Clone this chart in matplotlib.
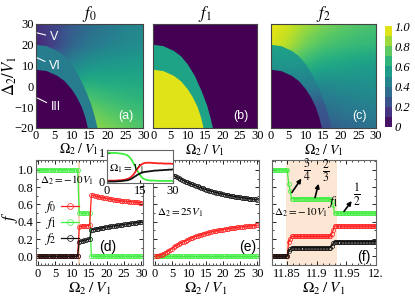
import numpy as np
import matplotlib
matplotlib.use("Agg")
import matplotlib.pyplot as plt
from matplotlib.patches import Polygon
from matplotlib.ticker import MultipleLocator
from matplotlib.cm import ScalarMappable
from matplotlib.colors import Normalize

plt.rcParams['font.family'] = ['Liberation Serif', 'DejaVu Serif']
plt.rcParams['mathtext.fontset'] = 'stix'
plt.rcParams['font.size'] = 9

# ---- phase diagram data (grid nodes: Omega2 = 0..30 step 5, Delta2 = 30..-20 step 10)
omega_nodes = [0, 5, 10, 15, 20, 25, 30]
delta_nodes = [30, 20, 10, 0, -10, -20]

# boundary between region V and VI
omega_outer = [0, 3, 6, 8, 10, 12, 14, 15.5, 16.5, 17.2]
delta_outer = [20, 19.3, 17, 14.5, 10.5, 5, -2.5, -9, -15, -20]
# boundary between region VI and III
omega_inner = [0, 3, 6, 8, 10, 11.5, 12.8, 13.8, 14.5]
delta_inner = [8, 7.3, 5, 2.5, -1.5, -5.5, -10, -15, -20]

f0_outer = [[0.14, 0.20, 0.28, 0.35, 0.40, 0.44, 0.46],
            [0.10, 0.20, 0.32, 0.40, 0.44, 0.47, 0.49],
            [0.25, 0.36, 0.46, 0.52, 0.54, 0.55, 0.56],
            [0.50, 0.56, 0.63, 0.65, 0.63, 0.62, 0.61],
            [0.74, 0.76, 0.77, 0.76, 0.72, 0.69, 0.67],
            [0.84, 0.84, 0.84, 0.84, 0.80, 0.76, 0.72]]
f0_band = [[0.42] * 7] * 6
f0_core = 0.0

f1_outer = [[0.0] * 7] * 6
f1_band = [[0.58] * 7] * 6
f1_core = 0.95

f2_outer = [[0.97, 0.93, 0.86, 0.80, 0.76, 0.73, 0.71],
            [0.95, 0.88, 0.78, 0.72, 0.69, 0.67, 0.66],
            [0.82, 0.73, 0.65, 0.60, 0.58, 0.56, 0.55],
            [0.60, 0.55, 0.48, 0.46, 0.48, 0.49, 0.50],
            [0.38, 0.36, 0.36, 0.37, 0.40, 0.42, 0.44],
            [0.28, 0.28, 0.28, 0.28, 0.32, 0.35, 0.38]]
f2_band = [[0.60] * 7,
           [0.58] * 7,
           [0.52, 0.52, 0.51, 0.50, 0.49, 0.49, 0.49],
           [0.43, 0.43, 0.42, 0.41, 0.40, 0.40, 0.40],
           [0.30, 0.30, 0.28, 0.27, 0.27, 0.27, 0.27],
           [0.24] * 7]
f2_core = 0.0

# ---- cuts, Delta2 = -10 V1 (panel d)
omega_d = np.arange(0, 30.5, 0.5)
f0_d = [0.0] * 24 + [0.34, 0.345, 0.35, 0.35, 0.352, 0.355, 0.357] + \
    [0.71, 0.705, 0.70, 0.695, 0.69, 0.685, 0.681, 0.677, 0.673, 0.669, 0.665, 0.661,
     0.658, 0.655, 0.652, 0.649, 0.646, 0.643, 0.641, 0.639, 0.637, 0.635, 0.633,
     0.631, 0.629, 0.627, 0.625, 0.623, 0.621, 0.62]
f1_d = [1.0] * 24 + [0.5] * 7 + [0.0] * 30
f2_d = [0.0] * 24 + [0.17, 0.175, 0.18, 0.185, 0.19, 0.195, 0.2] + \
    [0.305, 0.309, 0.313, 0.317, 0.321, 0.325, 0.329, 0.333, 0.336, 0.339, 0.342,
     0.345, 0.348, 0.351, 0.354, 0.357, 0.36, 0.363, 0.366, 0.369, 0.372, 0.375,
     0.378, 0.381, 0.384, 0.387, 0.39, 0.393, 0.396, 0.399]

# ---- cuts, Delta2 = 25 V1 (panel e)
omega_e = np.arange(0, 30.5, 0.5)
f0_e = [0.0, 0.003, 0.008, 0.014, 0.02, 0.03, 0.04, 0.052, 0.065, 0.077, 0.09, 0.102,
        0.115, 0.128, 0.14, 0.15, 0.16, 0.17, 0.18, 0.19, 0.2, 0.209, 0.217, 0.225,
        0.232, 0.239, 0.245, 0.251, 0.257, 0.263, 0.268, 0.273, 0.278, 0.283, 0.287,
        0.291, 0.295, 0.299, 0.303, 0.307, 0.31, 0.314, 0.317, 0.32, 0.323, 0.326,
        0.329, 0.332, 0.334, 0.337, 0.339, 0.342, 0.344, 0.346, 0.348, 0.35, 0.352,
        0.354, 0.356, 0.358, 0.36]
f1_e = [0.0] * 61
f2_e = [1.0, 0.999, 0.997, 0.994, 0.99, 0.983, 0.975, 0.968, 0.96, 0.953, 0.945, 0.935,
        0.925, 0.915, 0.905, 0.895, 0.885, 0.875, 0.865, 0.856, 0.848, 0.84, 0.832,
        0.824, 0.816, 0.808, 0.8, 0.793, 0.786, 0.779, 0.773, 0.766, 0.76, 0.754,
        0.749, 0.743, 0.738, 0.733, 0.728, 0.723, 0.719, 0.714, 0.71, 0.706, 0.702,
        0.698, 0.695, 0.691, 0.688, 0.685, 0.682, 0.679, 0.676, 0.673, 0.671, 0.668,
        0.666, 0.663, 0.66, 0.658, 0.655]

# ---- inset, Omega1 = V1
omega_in = np.arange(0, 31, 1)
f0_in = [0.03, 0.03, 0.03, 0.03, 0.03, 0.04, 0.04, 0.05, 0.06, 0.08, 0.11, 0.16, 0.24,
         0.35, 0.46, 0.55, 0.61, 0.64, 0.65, 0.65, 0.65, 0.64, 0.64, 0.63, 0.63, 0.63,
         0.62, 0.62, 0.62, 0.62, 0.61]
f1_in = [1.0, 1.0, 0.99, 0.99, 0.99, 0.98, 0.97, 0.96, 0.94, 0.92, 0.86, 0.77, 0.64,
         0.49, 0.34, 0.22, 0.13, 0.08, 0.05, 0.04, 0.03, 0.03, 0.03, 0.02, 0.02, 0.02,
         0.02, 0.02, 0.02, 0.02, 0.02]
f2_in = [0.0, 0.0, 0.0, 0.0, 0.0, 0.01, 0.01, 0.02, 0.03, 0.04, 0.06, 0.09, 0.14, 0.19,
         0.24, 0.28, 0.31, 0.33, 0.34, 0.35, 0.36, 0.37, 0.38, 0.38, 0.39, 0.39, 0.40,
         0.40, 0.41, 0.41, 0.42]

# ---- zoom near the first transition (panel f)
omega_f = np.linspace(11.825, 12.0, 71)
f0_f = [0.0] * 11 + [0.17, 0.2] + [0.23] * 27 + [0.26, 0.3] + [0.35] * 29
f1_f = [1.0] * 11 + [0.84, 0.755] + [0.667] * 27 + [0.64, 0.59] + [0.5] * 29
f2_f = [0.0] * 11 + [0.06, 0.08] + [0.10] * 27 + [0.12, 0.15] + [0.17] * 29

RED, GREEN, BLACK = '#ff2020', '#40ee40', '#111111'
SPAN = '#fce6d4'
cmap = plt.get_cmap('viridis')
norm = Normalize(0, 1)
xlab = r'$\Omega_2\;/\;V_1$'

fig = plt.figure(figsize=(4.15, 2.96), dpi=100)


def draw_map(ax, outer, band, core, title, tag):
    ext = (-2.5, 32.5, -25, 35)
    ax.imshow(np.array(outer), extent=ext, cmap=cmap, norm=norm,
              interpolation='bilinear', aspect='auto', origin='upper')
    im = ax.imshow(np.array(band), extent=ext, cmap=cmap, norm=norm,
                   interpolation='bilinear', aspect='auto', origin='upper')
    verts = [(-1, delta_outer[0])] + list(zip(omega_outer, delta_outer)) + \
        [(omega_outer[-1], -21), (-1, -21)]
    clip = Polygon(verts, closed=True, transform=ax.transData, fc='none', ec='none')
    ax.add_patch(clip)
    im.set_clip_path(clip)
    cx = [-1] + omega_inner + [omega_inner[-1], -1]
    cy = [delta_inner[0]] + delta_inner + [-21, -21]
    ax.fill(cx, cy, color=cmap(norm(core)), lw=0)
    ax.set_xlim(0, 30)
    ax.set_ylim(-20, 30)
    ax.set_xticks(omega_nodes)
    ax.set_yticks([-20, -10, 0, 10, 20, 30])
    ax.tick_params(direction='in', length=0, pad=1.5, labelsize=9)
    ax.set_title(title, fontsize=12, pad=3)
    ax.set_xlabel(xlab, fontsize=10, labelpad=0)
    ax.text(0.84, 0.11, tag, transform=ax.transAxes, color='white', ha='center',
            va='center', fontsize=9, family='Liberation Sans')
    for s in ax.spines.values():
        s.set_color('#444444')
        s.set_linewidth(0.8)


ax_a = fig.add_axes([0.087, 0.568, 0.258, 0.351])
ax_b = fig.add_axes([0.369, 0.568, 0.251, 0.351])
ax_c = fig.add_axes([0.653, 0.568, 0.253, 0.351])
draw_map(ax_a, f0_outer, f0_band, f0_core, r'$f_0$', '(a)')
draw_map(ax_b, f1_outer, f1_band, f1_core, r'$f_1$', '(b)')
draw_map(ax_c, f2_outer, f2_band, f2_core, r'$f_2$', '(c)')
ax_a.set_ylabel(r'$\Delta_2/V_1$', fontsize=12)
ax_a.yaxis.set_label_coords(-0.16, 0.5)
ax_a.xaxis.set_label_coords(0.40, -0.125)
ax_b.set_yticklabels([])
ax_c.set_yticklabels([])

for txt, xy, xt in [('V', (0.3, 25.7), (5.0, 23.7)),
                    ('VI', (0.3, 13.7), (5.3, 9.8)),
                    ('III', (0.3, -5.6), (5.5, -10.0))]:
    ax_a.annotate(txt, xy=xy, xytext=xt, color='white', ha='center', va='center',
                  fontsize=9, family='Liberation Sans',
                  arrowprops=dict(arrowstyle='-', color='white', lw=0.8,
                                  shrinkA=1, shrinkB=0))

cax = fig.add_axes([0.928, 0.571, 0.017, 0.341])
cb = fig.colorbar(ScalarMappable(norm=norm, cmap=cmap), cax=cax,
                  boundaries=np.linspace(0, 1, 11), ticks=[0, 0.2, 0.4, 0.6, 0.8, 1.0])
cb.ax.set_yticklabels(['0', '0.2', '0.4', '0.6', '0.8', '1.0'], fontstyle='italic')
cb.ax.tick_params(length=0, pad=2, labelsize=9)
cb.outline.set_visible(False)


def style_cut(ax):
    ax.set_ylim(-0.1, 1.12)
    ax.yaxis.set_major_locator(MultipleLocator(0.2))
    ax.yaxis.set_minor_locator(MultipleLocator(0.1))
    ax.tick_params(which='both', direction='in', top=True, right=True, labelsize=9, pad=2)
    ax.tick_params(which='major', length=3, width=0.6)
    ax.tick_params(which='minor', length=1.5, width=0.5)
    ax.set_xlabel(xlab, fontsize=11, labelpad=1)
    for s in ax.spines.values():
        s.set_color('#666666')
        s.set_linewidth(0.8)


def plot_cut(ax, x, f0, f1, f2):
    kw = dict(marker='o', ms=3.0, mfc='none', mew=0.5, lw=0.9)
    ax.plot(x, f1, color=GREEN, label=r'$f_1$', **kw)
    ax.plot(x, f0, color=RED, label=r'$f_0$', **kw)
    ax.plot(x, f2, color=BLACK, label=r'$f_2$', **kw)


ax_d = fig.add_axes([0.087, 0.105, 0.258, 0.356])
ax_e = fig.add_axes([0.369, 0.105, 0.255, 0.356])
ax_f = fig.add_axes([0.655, 0.105, 0.251, 0.356])

ax_d.axvline(11.89, color='#f6cfae', lw=1.2, zorder=0)
plot_cut(ax_d, omega_d, f0_d, f1_d, f2_d)
style_cut(ax_d)
ax_d.set_xlim(-0.5, 30.5)
ax_d.xaxis.set_major_locator(MultipleLocator(5))
ax_d.xaxis.set_minor_locator(MultipleLocator(1))
ax_d.set_ylabel(r'$f$', fontsize=12)
ax_d.yaxis.set_label_coords(-0.15, 0.45)
ax_d.text(0.5, 0.84, r'$\Delta_2=-10V_1$', fontsize=8)
h, l = ax_d.get_legend_handles_labels()
order = [1, 0, 2]
ax_d.legend([h[i] for i in order], [l[i] for i in order], loc='upper left',
            bbox_to_anchor=(0.0, 0.70), frameon=False, markerfirst=False,
            fontsize=10, handlelength=1.3, labelspacing=0.0, numpoints=1,
            markerscale=1.4, handletextpad=0.3, borderpad=0.1)
ax_d.text(0.67, 0.17, '(d)', transform=ax_d.transAxes, ha='center', va='center',
          fontsize=10, family='Liberation Sans')

plot_cut(ax_e, omega_e, f0_e, f1_e, f2_e)
style_cut(ax_e)
ax_e.set_xlim(-0.5, 30.5)
ax_e.xaxis.set_major_locator(MultipleLocator(5))
ax_e.xaxis.set_minor_locator(MultipleLocator(1))
ax_e.set_yticklabels([])
ax_e.text(0.5, 0.47, r'$\Delta_2=25V_1$', fontsize=8)
ax_e.text(0.89, 0.17, '(e)', transform=ax_e.transAxes, ha='center', va='center',
          fontsize=10, family='Liberation Sans')

ax_f.axvspan(11.8475, 11.934, color=SPAN, lw=0, zorder=0)
plot_cut(ax_f, omega_f, f0_f, f1_f, f2_f)
style_cut(ax_f)
ax_f.set_xlim(11.824, 12.0)
ax_f.set_xticks([11.85, 11.9, 11.95, 12.0])
ax_f.set_xticklabels(['11.85', '11.9', '11.95', '12.'])
ax_f.xaxis.set_minor_locator(MultipleLocator(0.01))
ax_f.set_yticklabels([])
ax_f.text(11.827, 0.51, r'$\Delta_2=-10V_1$', fontsize=8, va='center')
ax_f.text(11.927, 0.63, r'$f_1$', fontsize=10, ha='center', va='center')
for frac, tail, head, pos in [(r'$\frac{3}{4}$', (11.858, 0.74), (11.874, 0.90), (11.884, 0.99)),
                              (r'$\frac{2}{3}$', (11.897, 0.68), (11.903, 0.84), (11.915, 0.98)),
                              (r'$\frac{1}{2}$', (11.946, 0.52), (11.959, 0.64), (11.968, 0.71))]:
    ax_f.annotate('', xy=head, xytext=tail,
                  arrowprops=dict(arrowstyle='-|>', color='black', lw=1.2,
                                  mutation_scale=6, shrinkA=0, shrinkB=0))
    ax_f.text(pos[0], pos[1], frac, fontsize=12, ha='center', va='center')
ax_f.text(0.885, 0.076, '(f)', transform=ax_f.transAxes, ha='center', va='center',
          fontsize=10, family='Liberation Sans')

ax_in = fig.add_axes([0.258, 0.382, 0.159, 0.112])
ax_in.set_zorder(5)
ax_in.set_facecolor('white')
ax_in.plot(omega_in, f1_in, color=GREEN, lw=1.3)
ax_in.plot(omega_in, f0_in, color=RED, lw=1.3)
ax_in.plot(omega_in, f2_in, color=BLACK, lw=1.3)
ax_in.set_xlim(0, 30)
ax_in.set_ylim(-0.05, 1.1)
ax_in.set_xticks([0, 15, 30])
ax_in.set_yticks([0, 1])
ax_in.tick_params(direction='in', length=2, labelsize=9, pad=1.5)
ax_in.text(1.0, 0.45, r'$\Omega_1=V_1$', fontsize=8, va='center')
for s in ax_in.spines.values():
    s.set_color('#666666')
    s.set_linewidth(0.8)

fig.savefig('out.png', dpi=100)
